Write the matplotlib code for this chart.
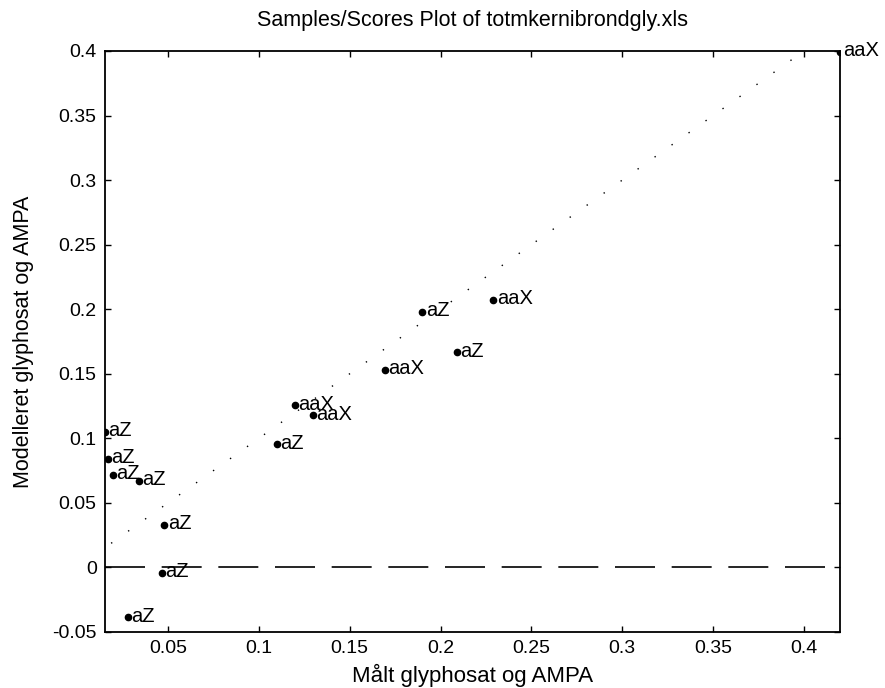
import numpy as np
from matplotlib import pyplot as plt

plt.rcParams['font.family'] = ['Liberation Sans', 'DejaVu Sans']

# measured vs. modelled glyphosate + AMPA, one label per sample
maalt = [0.4198, 0.190, 0.229, 0.209, 0.1694, 0.1199, 0.1298, 0.110,
         0.0153, 0.017, 0.0197, 0.034, 0.048, 0.0467, 0.028]
modelleret = [0.3995, 0.198, 0.207, 0.1665, 0.153, 0.1255, 0.1177, 0.0953,
              0.1046, 0.0837, 0.0713, 0.067, 0.033, -0.004, -0.0387]
navne = ['aaX', 'aZ', 'aaX', 'aZ', 'aaX', 'aaX', 'aaX', 'aZ',
         'aZ', 'aZ', 'aZ', 'aZ', 'aZ', 'aZ', 'aZ']

xticks = [0.05, 0.1, 0.15, 0.2, 0.25, 0.3, 0.35, 0.4]
yticks = [-0.05, 0, 0.05, 0.1, 0.15, 0.2, 0.25, 0.3, 0.35, 0.4]
xlim = (0.0153, 0.4198)
ylim = (-0.05, 0.4)

fig = plt.figure(figsize=(8.85, 6.88), dpi=100)
ax = fig.add_axes([0.1186, 0.0814, 0.8305, 0.8445])

# 1:1 line and zero line
ax.plot([0, 0.45], [0, 0.45], color='black', linestyle=(0, (1, 14)), linewidth=1.0)
ax.axhline(0, color='black', linewidth=1.2, dashes=(24, 10))

ax.plot(maalt, modelleret, 'o', color='black', markersize=4.5, linestyle='none')
for x, y, s in zip(maalt, modelleret, navne):
    ax.annotate(s, (x, y), xytext=(2.5, 1), textcoords='offset points',
                va='center', ha='left', fontsize=14.5, annotation_clip=False)

ax.set_xlim(*xlim)
ax.set_ylim(*ylim)
ax.set_xticks(xticks)
ax.set_yticks(yticks)
ax.set_xticklabels([('%g' % t) for t in xticks])
ax.set_yticklabels([('%g' % t) for t in yticks])
ax.tick_params(direction='in', top=True, right=True, length=4, width=1,
               labelsize=14, pad=6)
for sp in ax.spines.values():
    sp.set_linewidth(1.3)

ax.set_title('Samples/Scores Plot of totmkernibrondgly.xls', fontsize=15.5, pad=18)
ax.set_xlabel('Målt glyphosat og AMPA', fontsize=16, labelpad=5)
ax.set_ylabel('Modelleret glyphosat og AMPA', fontsize=15.5, labelpad=13)

fig.savefig('out.png', dpi=100)
